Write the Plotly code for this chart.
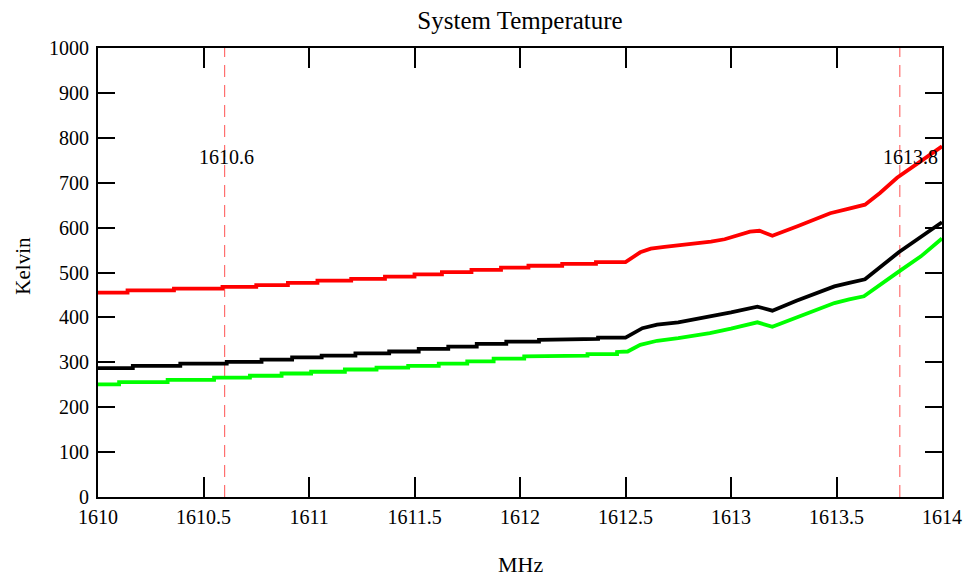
import plotly.graph_objects as go

# ---- data ----
red_x = [1610.00, 1610.14, 1610.14, 1610.36, 1610.36, 1610.59, 1610.59, 1610.75, 1610.75,
         1610.90, 1610.90, 1611.04, 1611.04, 1611.20, 1611.20, 1611.36, 1611.36, 1611.50, 1611.50,
         1611.63, 1611.63, 1611.77, 1611.77, 1611.91, 1611.91, 1612.04, 1612.04, 1612.20, 1612.20,
         1612.36, 1612.36, 1612.50,
         1612.57, 1612.62, 1612.685, 1612.75, 1612.84, 1612.905, 1612.97, 1613.03, 1613.09,
         1613.135, 1613.196, 1613.315, 1613.39, 1613.47, 1613.55, 1613.635, 1613.706, 1613.787,
         1613.9, 1614.0]
red_y = [455, 455, 460, 460, 464, 464, 468, 468, 472,
         472, 477, 477, 482, 482, 486, 486, 491, 491, 496,
         496, 501, 501, 506, 506, 511, 511, 515, 515, 519,
         519, 523, 523,
         545, 553, 557, 560, 564, 569, 574, 582, 591,
         593, 582, 603, 618, 632, 641, 651, 677, 711,
         748, 781]

black_x = [1610.00, 1610.165, 1610.165, 1610.39, 1610.39, 1610.61, 1610.61, 1610.775, 1610.775,
           1610.92, 1610.92, 1611.06, 1611.06, 1611.22, 1611.22, 1611.38, 1611.38, 1611.52, 1611.52,
           1611.66, 1611.66, 1611.795, 1611.795, 1611.935, 1611.935, 1612.09, 1612.09, 1612.22, 1612.22,
           1612.37, 1612.37, 1612.50,
           1612.58, 1612.65, 1612.75, 1612.90, 1613.00, 1613.125, 1613.196, 1613.31, 1613.376,
           1613.49, 1613.56, 1613.635, 1613.795, 1613.9, 1614.0]
black_y = [287, 287, 292, 292, 297, 297, 301, 301, 306,
           306, 311, 311, 315, 315, 320, 320, 324, 324, 330,
           330, 335, 335, 341, 341, 346, 346, 350, 350, 352,
           352, 355, 355,
           376, 384, 389, 401, 411, 424, 415, 437, 448,
           469, 477, 485, 545, 579, 612]

green_x = [1610.00, 1610.10, 1610.10, 1610.33, 1610.33, 1610.55, 1610.55, 1610.72, 1610.72,
           1610.87, 1610.87, 1611.01, 1611.01, 1611.17, 1611.17, 1611.32, 1611.32, 1611.47, 1611.47,
           1611.615, 1611.615, 1611.75, 1611.75, 1611.875, 1611.875, 1612.02, 1612.02, 1612.17, 1612.17,
           1612.32, 1612.32, 1612.46, 1612.46,
           1612.51, 1612.57, 1612.65, 1612.75, 1612.90, 1613.00, 1613.125, 1613.196, 1613.31,
           1613.376, 1613.49, 1613.56, 1613.63, 1613.795, 1613.9, 1614.0]
green_y = [251, 251, 256, 256, 261, 261, 266, 266, 270,
           270, 275, 275, 279, 279, 284, 284, 288, 288, 292,
           292, 297, 297, 302, 302, 308, 308, 313, 313, 315,
           315, 318, 318, 323,
           324, 339, 348, 354, 365, 375, 389, 379, 400,
           410, 432, 440, 447, 502, 536, 576]

marker_freqs = [1610.6, 1613.8]
marker_labels = ["1610.6", "1613.8"]
marker_label_level = 758

x_ticks = [1610, 1610.5, 1611, 1611.5, 1612, 1612.5, 1613, 1613.5, 1614]
x_tick_text = ["1610", "1610.5", "1611", "1611.5", "1612", "1612.5", "1613", "1613.5", "1614"]
y_ticks = [0, 100, 200, 300, 400, 500, 600, 700, 800, 900, 1000]

title_text = "System Temperature"
x_title = "MHz"
y_title = "Kelvin"

FONT = "Liberation Serif, Times New Roman, serif"

# the page body adds an 8px offset; size the figure so it ends at the window edge
W, H = 966, 569

fig = go.Figure()

for xs, ys, col in [(red_x, red_y, "#ff0000"),
                    (black_x, black_y, "#000000"),
                    (green_x, green_y, "#00ff00")]:
    fig.add_trace(go.Scatter(x=xs, y=ys, mode="lines",
                             line=dict(color=col, width=3.8, shape="linear"),
                             showlegend=False, hoverinfo="skip"))

for f in marker_freqs:
    fig.add_shape(type="line", xref="x", yref="paper", x0=f, x1=f, y0=0, y1=1,
                  line=dict(color="#ff6f6f", width=1.2, dash="12px,8px"), layer="below")

shifts = [2, 11]
for f, lab, sh in zip(marker_freqs, marker_labels, shifts):
    fig.add_annotation(x=f, y=marker_label_level, xref="x", yref="y", text=lab,
                       showarrow=False, xshift=sh, xanchor="center", yanchor="middle",
                       font=dict(family=FONT, size=20, color="black"))

fig.add_annotation(x=-0.089, y=0.515, xref="paper", yref="paper", text=y_title,
                   textangle=-90, showarrow=False, xanchor="center", yanchor="middle",
                   font=dict(family=FONT, size=21, color="black"))
fig.add_annotation(x=0.5, y=-0.151, xref="paper", yref="paper", text=x_title,
                   showarrow=False, xanchor="center", yanchor="middle",
                   font=dict(family=FONT, size=22, color="black"))

fig.update_layout(
    width=W, height=H,
    margin=dict(l=90, r=28, t=40, b=80),
    paper_bgcolor="white", plot_bgcolor="white",
    title=dict(text=title_text, x=0.5, xref="paper", xanchor="center",
               y=1 - 12 / H, yanchor="middle",
               font=dict(family=FONT, size=25, color="black")),
    font=dict(family=FONT, size=20, color="black"),
    xaxis=dict(range=[1610, 1614], tickvals=x_ticks, ticktext=x_tick_text,
               ticks="inside", ticklen=20, tickwidth=1.5, tickcolor="black",
               showline=True, linewidth=2, linecolor="black", mirror="ticks",
               showgrid=False, zeroline=False, ticklabelstandoff=1,
               tickfont=dict(family=FONT, size=20, color="black")),
    yaxis=dict(range=[0, 1000], tickvals=y_ticks,
               ticks="inside", ticklen=17, tickwidth=1.5, tickcolor="black",
               showline=True, linewidth=2, linecolor="black", mirror="ticks",
               showgrid=False, zeroline=False, ticklabelstandoff=3,
               tickfont=dict(family=FONT, size=20, color="black")),
)

fig.write_html("out.html")
